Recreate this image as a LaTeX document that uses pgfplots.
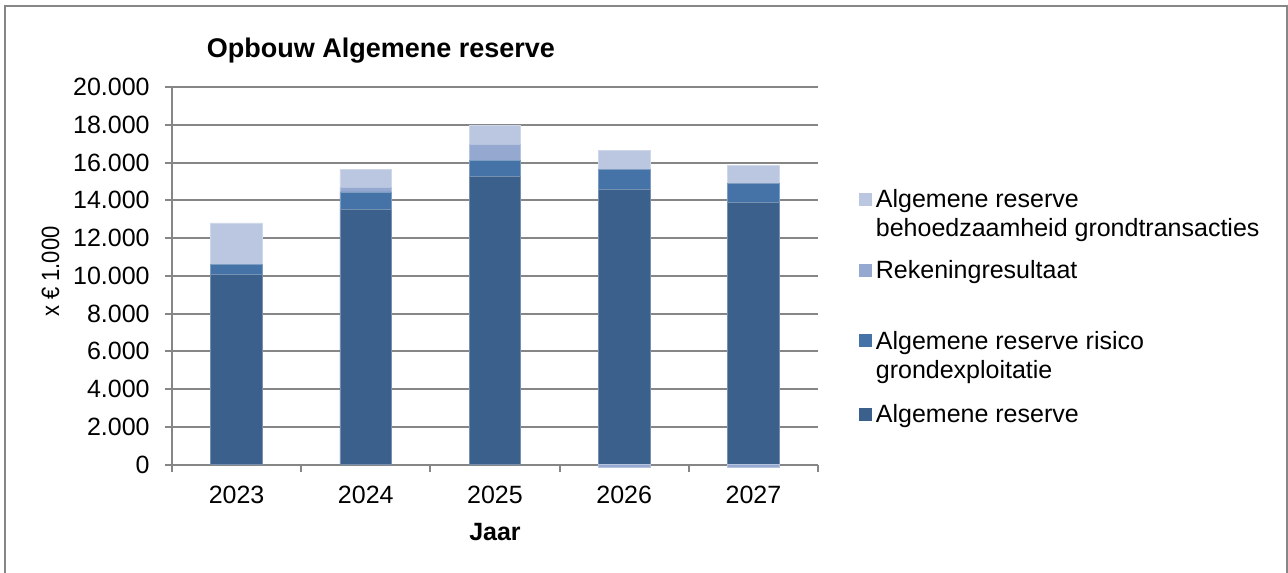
\documentclass[border=0pt]{standalone}
\usepackage{fontspec}
\setmainfont{Liberation Sans}
\usepackage{graphicx}
\usepackage{pgfplots}
\pgfplotsset{compat=1.18}
\definecolor{cA}{RGB}{59,96,140}
\definecolor{cB}{RGB}{69,115,167}
\definecolor{cC}{RGB}{149,169,208}
\definecolor{cD}{RGB}{187,199,224}
\definecolor{gridc}{RGB}{134,134,134}
\newcommand{\LS}[1]{\rule[-3.5pt]{0pt}{#1}}
\begin{document}
\begin{tikzpicture}
\useasboundingbox (0,0) rectangle (644pt,-286pt);
\draw[draw=gridc, line width=1pt] (2.5pt,-287pt) -- (2.5pt,-3pt) -- (643.5pt,-3pt) -- (643.5pt,-287pt);
\begin{axis}[
  at={(86pt,-232.25pt)}, anchor=south west,
  width=323pt, height=188.75pt, scale only axis,
  xmin=-0.5, xmax=4.5, ymin=0, ymax=20000,
  enlargelimits=false,
  ybar stacked, bar width=25.85pt,
  axis lines=left, axis line style={-, draw=gridc, line width=1pt},
  xtick={0,1,2,3,4}, xticklabels={2023,2024,2025,2026,2027},
  major x tick style={draw=none},
  minor xtick={-0.5,0.5,1.5,2.5,3.5,4.5},
  tick align=outside,
  major tick length=3.5pt, minor tick length=3.5pt,
  tick style={draw=gridc, line width=1pt},
  ytick={0,2000,...,20000},
  scaled y ticks=false,
  yticklabels={0,2.000,4.000,6.000,8.000,10.000,12.000,14.000,16.000,18.000,20.000},
  ymajorgrids, grid style={draw=gridc, line width=1pt},
  ticklabel style={font=\fontsize{12.5}{14}\selectfont, inner sep=0pt},
  yticklabel style={anchor=east, xshift=-7.5pt},
  xticklabel style={anchor=base, yshift=-15.9pt},
  title={Opbouw Algemene reserve},
  title style={at={(0.3234,1.047)}, anchor=base, inner sep=0pt, font=\bfseries\fontsize{13.5}{15}\selectfont},
  xlabel={Jaar},
  xlabel style={at={(0.5,-0.2)}, anchor=base, inner sep=0pt, font=\bfseries\fontsize{12.5}{14}\selectfont},
  ylabel={\scalebox{0.88}[1]{x € 1.000}},
  ylabel style={at={(-0.188,0.511)}, anchor=center, inner sep=0pt, font=\fontsize{12.5}{14}\selectfont},
  legend style={at={(1.0624,0.7412)}, anchor=north west, draw=none, fill=none, inner sep=0pt,
    row sep=0pt, column sep=0pt, font=\fontsize{12.5}{14}\selectfont,
    cells={anchor=base west, inner sep=0pt}},
]
\addplot[forget plot, fill=cA, draw=cA!70!white, line width=0.4pt] coordinates {(0,10080) (1,13500) (2,15260) (3,14590) (4,13880)};
\addplot[forget plot, fill=cB, draw=cB!70!white, line width=0.4pt] coordinates {(0,520) (1,940) (2,850) (3,1060) (4,990)};
\addplot[forget plot, fill=cC, draw=cC!70!white, line width=0.4pt] coordinates {(0,0) (1,220) (2,830) (3,0) (4,0)};
\addplot[forget plot, fill=cD, draw=cD!70!white, line width=0.4pt] coordinates {(0,2200) (1,990) (2,1030) (3,990) (4,990)};
\addlegendimage{legend image code/.code={\fill[cD] (0pt,1.1pt) rectangle (6.2pt,7.1pt);}}
\addlegendentry{\LS{12pt}Algemene reserve}
\addlegendimage{empty legend}
\addlegendentry{\LS{12pt}behoedzaamheid grondtransacties}
\addlegendimage{legend image code/.code={\fill[cC] (0pt,1.1pt) rectangle (6.2pt,7.1pt);}}
\addlegendentry{\LS{19pt}Rekeningresultaat}
\addlegendimage{legend image code/.code={\fill[cB] (0pt,1.1pt) rectangle (6.2pt,7.1pt);}}
\addlegendentry{\LS{33.35pt}Algemene reserve risico}
\addlegendimage{empty legend}
\addlegendentry{\LS{12pt}grondexploitatie}
\addlegendimage{legend image code/.code={\fill[cA] (0pt,1.1pt) rectangle (6.2pt,7.1pt);}}
\addlegendentry{\LS{20.15pt}Algemene reserve}
\end{axis}
\begin{axis}[
  at={(86pt,-232.25pt)}, anchor=south west,
  width=323pt, height=188.75pt, scale only axis,
  xmin=-0.5, xmax=4.5, ymin=0, ymax=20000,
  enlargelimits=false, hide axis, clip=false,
  ybar, bar width=25.85pt,
]
\addplot[fill=cC, draw=cC!70!white, line width=0.4pt] coordinates {(3,-150) (4,-150)};
\end{axis}
\end{tikzpicture}
\end{document}
